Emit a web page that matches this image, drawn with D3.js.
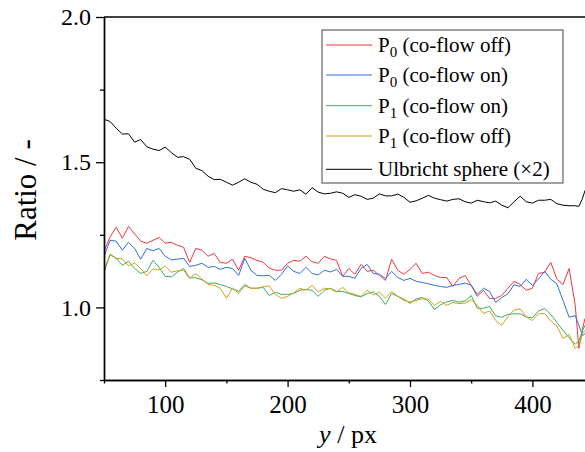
<!DOCTYPE html>
<html><head><meta charset="utf-8">
<script src="https://cdn.jsdelivr.net/npm/d3@7"></script>
<style>
body{margin:0;background:#fff}
text{font-family:"Liberation Serif","Times New Roman","DejaVu Serif",serif;fill:#000}
</style>
</head><body><svg id="c" width="585" height="452"></svg>
<script>
const xValues = [50,55,60,65,70,75,80,85,90,95,100,105,110,115,120,125,130,135,140,145,150,155,160,165,170,175,180,185,190,195,200,205,210,215,220,225,230,235,240,245,250,255,260,265,270,275,280,285,290,295,300,305,310,315,320,325,330,335,340,345,350,355,360,365,370,375,380,385,390,395,400,405,410,415,420,425,430,435,438,441,443];

const p0Off = [1.193,1.243,1.276,1.238,1.279,1.253,1.228,1.221,1.231,1.241,
1.221,1.224,1.214,1.207,1.155,1.203,1.197,1.176,1.186,1.155,
1.152,1.166,1.128,1.176,1.171,1.162,1.155,1.136,1.128,1.128,
1.152,1.162,1.159,1.176,1.157,1.152,1.176,1.167,1.162,1.107,
1.134,1.114,1.148,1.124,1.128,1.110,1.093,1.166,1.128,1.114,
1.131,1.152,1.117,1.121,1.110,1.103,1.103,1.072,1.100,1.110,
1.076,1.038,1.059,1.031,1.031,1.041,1.066,1.090,1.079,1.059,
1.066,1.117,1.121,1.155,1.097,1.079,1.134,1.007,0.859,0.928,0.962];

const p0On = [1.176,1.231,1.228,1.197,1.224,1.203,1.166,1.203,1.195,1.203,
1.176,1.164,1.166,1.169,1.141,1.145,1.152,1.138,1.141,1.131,
1.138,1.134,1.110,1.169,1.128,1.110,1.109,1.110,1.093,1.114,
1.143,1.124,1.117,1.138,1.117,1.112,1.128,1.122,1.131,1.107,
1.107,1.100,1.134,1.148,1.117,1.114,1.100,1.124,1.103,1.093,
1.100,1.090,1.086,1.081,1.076,1.072,1.069,1.076,1.079,1.084,
1.076,1.045,1.066,1.055,1.017,1.034,1.047,1.078,1.072,1.097,
1.076,1.098,1.124,1.097,1.081,1.024,0.966,0.972,0.938,0.903,0.910];

const p1On = [1.121,1.181,1.169,1.145,1.159,1.134,1.117,1.124,1.162,1.138,
1.107,1.105,1.121,1.134,1.102,1.102,1.095,1.083,1.084,1.079,
1.072,1.064,1.055,1.079,1.066,1.066,1.069,1.041,1.052,1.045,
1.045,1.048,1.059,1.062,1.059,1.038,1.059,1.066,1.055,1.055,
1.048,1.041,1.036,1.048,1.053,1.038,1.010,1.048,1.038,1.028,
1.014,1.029,1.034,1.022,0.993,1.009,1.019,1.024,1.018,1.022,
1.041,0.997,0.997,1.003,0.971,0.966,0.976,0.978,0.978,0.967,
0.964,0.988,0.996,0.976,0.948,0.921,0.895,0.874,0.883,0.921,0.938];

const p1Off = [1.128,1.184,1.169,1.167,1.143,1.153,1.133,1.109,1.133,1.129,
1.143,1.121,1.126,1.128,1.100,1.116,1.098,1.079,1.076,1.066,
1.031,1.067,1.048,1.074,1.066,1.066,1.071,1.074,1.045,1.031,
1.038,1.050,1.066,1.059,1.076,1.053,1.066,1.064,1.053,1.069,
1.050,1.045,1.038,1.059,1.043,1.052,1.032,1.055,1.038,1.024,
1.019,1.024,1.030,1.029,1.007,1.021,1.007,1.017,1.013,1.015,
1.026,1.007,0.979,0.988,0.955,0.938,0.969,0.991,0.995,0.967,
0.955,0.978,0.979,0.953,0.936,0.893,0.907,0.859,0.869,0.910,0.921];

const ulbricht = [1.648,1.640,1.617,1.597,1.598,1.569,1.578,1.553,1.545,1.540,
1.552,1.533,1.517,1.519,1.510,1.479,1.471,1.452,1.440,1.441,
1.431,1.421,1.431,1.443,1.431,1.424,1.407,1.400,1.395,1.409,
1.405,1.400,1.405,1.390,1.412,1.397,1.391,1.393,1.398,1.393,
1.379,1.388,1.383,1.372,1.376,1.391,1.384,1.384,1.390,1.379,
1.362,1.367,1.376,1.386,1.376,1.371,1.366,1.372,1.374,1.364,
1.359,1.369,1.364,1.360,1.366,1.352,1.343,1.364,1.383,1.364,
1.359,1.369,1.369,1.372,1.357,1.352,1.350,1.350,1.348,1.376,1.403];

const xMajorTicks = [100,200,300,400];
const xMinorTicks = [50,150,250,350,450];
const yMajorTicks = [1.0,1.5,2.0];
const yMinorTicks = [0.75,1.25,1.75];

const series = [
  {name:"P", sub:"0", rest:" (co-flow off)", values:p0Off, color:"#f0363e"},
  {name:"P", sub:"0", rest:" (co-flow on)", values:p0On, color:"#2f6fdc"},
  {name:"P", sub:"1", rest:" (co-flow on)", values:p1On, color:"#36ad68"},
  {name:"P", sub:"1", rest:" (co-flow off)", values:p1Off, color:"#d6a114"},
  {name:"Ulbricht sphere (\u00d72)", sub:"", rest:"", values:ulbricht, color:"#000000"}
];

const FONT = '"Liberation Serif","Times New Roman","DejaVu Serif",serif';
const svg = d3.select('#c');
const L = 104, T = 17, B = 380;
const x = d3.scaleLinear().domain([50,450]).range([L, L + 400*1.224]);
const y = d3.scaleLinear().domain([0.75,2.0]).range([B, T]);

svg.append('clipPath').attr('id','clip').append('rect')
  .attr('x',L).attr('y',T).attr('width',585-L).attr('height',B-T);

const plot = svg.append('g').attr('clip-path','url(#clip)');
const line = d3.line().x((d,i)=>x(xValues[i])).y(d=>y(d));
series.forEach(s=>{
  plot.append('path').attr('d',line(s.values))
    .attr('fill','none').attr('stroke',s.color).attr('stroke-width',1)
    .attr('stroke-linejoin','round');
});

// axes
const xMaj = d3.axisBottom(x).tickValues(xMajorTicks).tickFormat(d3.format('d')).tickSize(7).tickPadding(8).tickSizeOuter(0);
const xMin = d3.axisBottom(x).tickValues(xMinorTicks).tickFormat('').tickSize(3.5).tickSizeOuter(0);
const yMaj = d3.axisLeft(y).tickValues(yMajorTicks).tickFormat(d3.format('.1f')).tickSize(8).tickPadding(5).tickSizeOuter(0);
const yMin = d3.axisLeft(y).tickValues(yMinorTicks).tickFormat('').tickSize(4).tickSizeOuter(0);

function style(g, fs){
  g.attr('font-family',FONT);
  g.selectAll('path.domain').attr('stroke','#000').attr('stroke-width',1.4);
  g.selectAll('line').attr('stroke','#000').attr('stroke-width',1.3);
  g.selectAll('text').attr('font-size',fs).attr('fill','#000');
}
svg.append('g').attr('transform',`translate(0,${B})`).call(xMin).call(style,25);
svg.append('g').attr('transform',`translate(0,${B})`).call(xMaj).call(style,25);
svg.append('g').attr('transform',`translate(${L},0)`).call(yMin).call(style,24);
svg.append('g').attr('transform',`translate(${L},0)`).call(yMaj).call(style,24);
// top border
svg.append('line').attr('x1',L).attr('x2',585).attr('y1',T).attr('y2',T).attr('stroke','#000').attr('stroke-width',1.4);

// axis titles
const xt = svg.append('text').attr('x',348).attr('y',443).attr('text-anchor','middle').attr('font-size',26);
xt.append('tspan').attr('font-style','italic').text('y');
xt.append('tspan').text(' / px');
svg.append('text').attr('transform','translate(36,190) rotate(-90)').attr('text-anchor','middle').attr('font-size',31).text('Ratio / -');

// legend
const leg = svg.append('g');
leg.append('rect').attr('x',322).attr('y',30).attr('width',241).attr('height',153)
  .attr('fill','#fff').attr('stroke','#444').attr('stroke-width',1);
const rowY = [45,75,105.7,136,169.3];
series.forEach((s,i)=>{
  leg.append('line').attr('x1',326).attr('x2',372).attr('y1',rowY[i]).attr('y2',rowY[i])
    .attr('stroke',s.color).attr('stroke-width',1);
  const t = leg.append('text').attr('x',378).attr('y',rowY[i]+7).attr('font-size',21);
  t.append('tspan').text(s.name);
  if(s.sub){
    t.append('tspan').attr('font-size',15).attr('dy',5).text(s.sub);
    t.append('tspan').attr('dy',-5).text(s.rest);
  }
});
</script>
</body></html>
